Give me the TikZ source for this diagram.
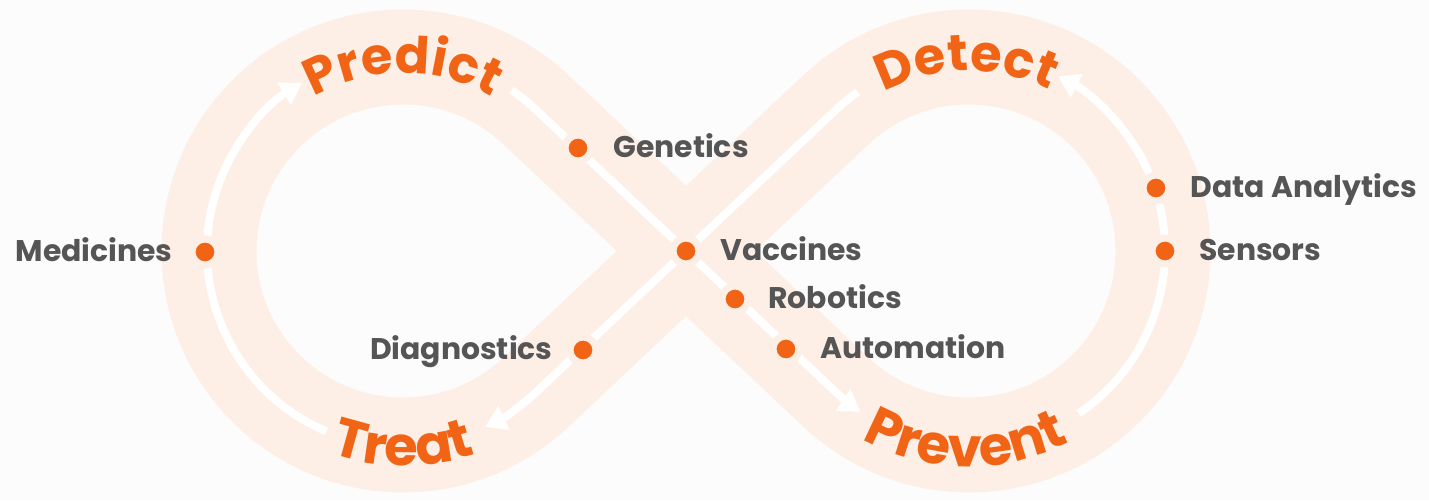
\documentclass[tikz,border=0pt]{standalone}
\usepackage{fontspec}
\setmainfont{Poppins}
\usetikzlibrary{arrows.meta,decorations.text,calc}
\definecolor{peach}{RGB}{253,239,229}
\definecolor{orng}{RGB}{241,100,22}
\definecolor{txtgray}{RGB}{85,85,85}
\definecolor{bgc}{RGB}{252,252,252}
\newcommand{\bigword}{\fontsize{31}{31}\selectfont\bfseries}
\newcommand{\topword}{\fontsize{29}{29}\selectfont\bfseries}
\begin{document}
\begin{tikzpicture}[x=0.02cm,y=0.02cm,
  band/.style={draw=peach, line width=1.9cm, line join=round},
  flow/.style={draw=white, line width=0.16cm, -{Triangle[length=0.42cm,width=0.5cm]}},
  dot/.style={circle, fill=orng, draw=peach, line width=0.14cm, minimum size=0.52cm, inner sep=0pt},
  lbl/.style={text=txtgray, font=\fontsize{17}{19}\selectfont\bfseries, inner sep=0pt},
  curved/.style={decorate, decoration={text along path, text align=center, text color=orng, text={|\bigword|#1}}},
  curvedtop/.style={decorate, decoration={text along path, text align=center, text color=orng, text={|\topword|#1}}}
]
\fill[bgc] (0,0) rectangle (1429,500);
\useasboundingbox (0,0) rectangle (1429,500);
\coordinate (O) at (686,249);
\coordinate (C1) at (403,249);
\coordinate (C2) at (969,249);
% band
\path[band] ($(C1)+(46.7:194)$) arc[start angle=46.7, end angle=313.3, radius=194]
  -- ($(C2)+(133.3:194)$) arc[start angle=133.3, end angle=-133.3, radius=194] -- cycle;
% white flow lines
\path[flow] ($(C1)+(247:196)$) coordinate (s1) arc[start angle=247, end angle=121, radius=196];
\path[flow] ($(C1)+(56:194)$) coordinate (s2) arc[start angle=56, end angle=46.7, radius=194]
  -- ($(C2)+(226.7:194)$) arc[start angle=226.7, end angle=236, radius=194];
\path[flow] ($(C2)+(-56:196)$) coordinate (s3) arc[start angle=-56, end angle=63, radius=196];
\path[flow] ($(C2)+(125:194)$) coordinate (s4) arc[start angle=125, end angle=133.3, radius=194]
  -- ($(C1)+(313.3:194)$) arc[start angle=313.3, end angle=295, radius=194];
% curved titles
\path[curvedtop=Predict] ($(C1)+(150:178)$) arc[start angle=150, end angle=30, radius=178];
\path[curvedtop=Detect] ($(C2)+(151:180)$) arc[start angle=151, end angle=31, radius=180];
\path[curved=Treat] ($(C1)+(210:215)$) arc[start angle=210, end angle=330, radius=215];
\path[curved=Prevent] ($(C2)+(209:216)$) arc[start angle=209, end angle=329, radius=216];
% dots
\node[dot] (med) at (205,248) {};
\node[dot] (gen) at (578,352) {};
\node[dot] (vac) at (686,249) {};
\node[dot] (rob) at (735,201) {};
\node[dot] (aut) at (786,151) {};
\node[dot] (dia) at (583,150) {};
\node[dot] (dat) at (1156,312) {};
\node[dot] (sen) at (1165,249) {};
% labels
\node[lbl, anchor=base east] (medl) at ($(med)+(-32,-10)$) {Medicines};
\node[lbl, anchor=base west] (genl) at ($(gen)+(35,-10)$) {Genetics};
\node[lbl, anchor=base west] (vacl) at ($(vac)+(34,-10)$) {Vaccines};
\node[lbl, anchor=base west] (robl) at ($(rob)+(33,-10)$) {Robotics};
\node[lbl, anchor=base west] (autl) at ($(aut)+(34,-10)$) {Automation};
\node[lbl, anchor=base east] (dial) at ($(dia)+(-30,-10)$) {Diagnostics};
\node[lbl, anchor=base west] (datl) at ($(dat)+(34,-10)$) {Data Analytics};
\node[lbl, anchor=base west] (senl) at ($(sen)+(34,-10)$) {Sensors};
\end{tikzpicture}
\end{document}
